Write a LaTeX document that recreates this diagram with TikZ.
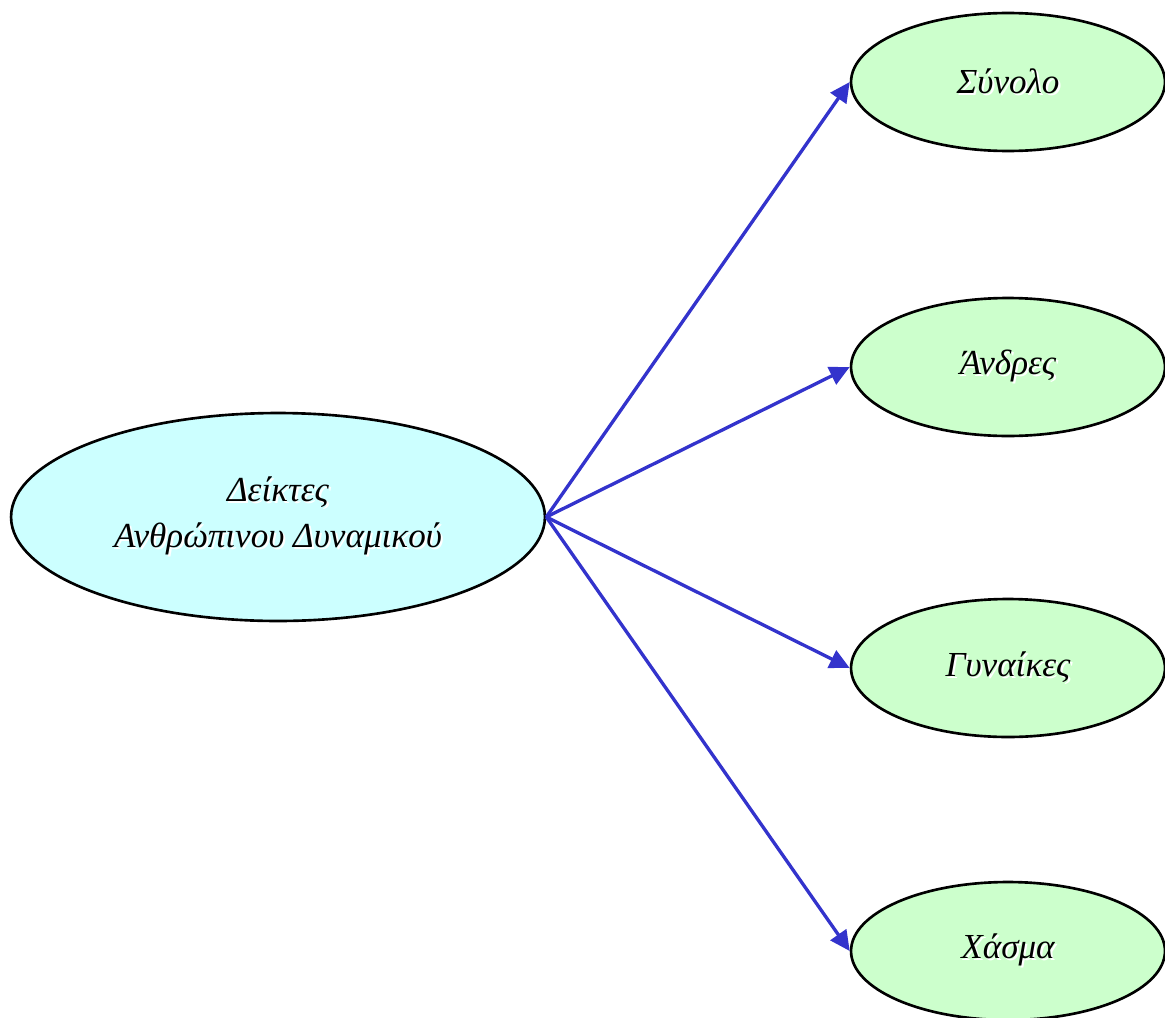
\documentclass[tikz,border=0pt]{standalone}
\usepackage{fontspec}
\setmainfont{Liberation Serif}
\usetikzlibrary{arrows.meta,shapes.geometric}
\newcommand{\shd}[1]{\makebox[0pt][l]{\hspace{1.2pt}\raisebox{-1.2pt}{\color{white}#1}}#1}
\tikzset{el/.append style={ellipse,draw,line width=1.5pt,font=\fontsize{20}{26}\selectfont\itshape,align=center}}
\tikzset{main/.append style={fill=mcyan,minimum width=10.68cm,minimum height=4.16cm}}
\tikzset{leaf/.append style={fill=mgreen,minimum width=6.28cm,minimum height=2.76cm}}
\tikzset{arr/.append style={draw=mblue,line width=1.9pt,-{Triangle[length=0.4cm,width=0.38cm]}}}
\definecolor{mcyan}{HTML}{CCFFFF}
\definecolor{mgreen}{HTML}{CCFFCC}
\definecolor{mblue}{HTML}{3333CC}
\begin{document}
\begin{tikzpicture}[x=0.02cm,y=-0.02cm]
                \useasboundingbox (0,0) rectangle (1165,1017);
                % nodes
                \node[el,main] (dk) at (278,517) {\shd{Δείκτες}\\\shd{Ανθρώπινου Δυναμικού}};
                \node[el,leaf] (sy) at (1008,82) {\shd{Σύνολο}};
                \node[el,leaf] (an) at (1008,367) {\shd{Άνδρες}};
                \node[el,leaf] (gy) at (1008,668) {\shd{Γυναίκες}};
                \node[el,leaf] (xa) at (1008,951) {\shd{Χάσμα}};
                % arrows
                \draw[arr] (dk.east) -- (sy.west);
                \draw[arr] (dk.east) -- (an.west);
                \draw[arr] (dk.east) -- (gy.west);
                \draw[arr] (dk.east) -- (xa.west);
\end{tikzpicture}
\end{document}
